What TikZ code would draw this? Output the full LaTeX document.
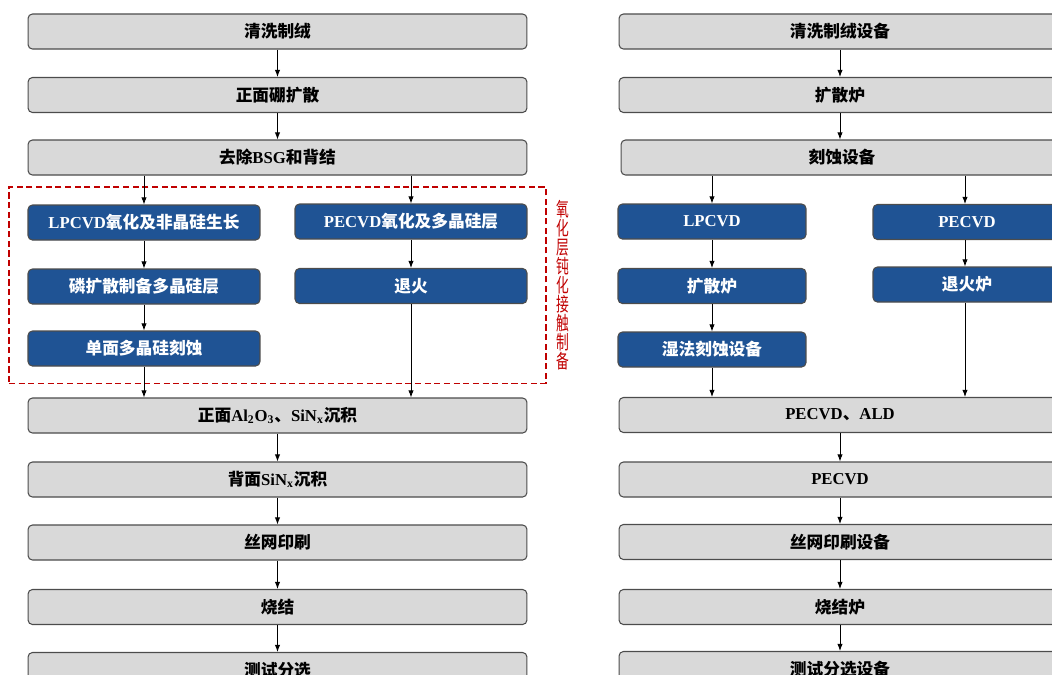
\documentclass[tikz,border=0pt]{standalone}
\usepackage{fontspec}
\setmainfont{Liberation Serif}
\newfontfamily\cjk{Noto Sans CJK SC}
\newfontfamily\cjknarrow[FakeStretch=0.66]{Noto Sans CJK SC}
\usetikzlibrary{arrows.meta,fit,positioning}
\definecolor{procgray}{HTML}{D9D9D9}
\definecolor{procblue}{HTML}{1F5394}
\definecolor{sidered}{HTML}{C00000}
\newcommand\lat[1]{{\rmfamily\bfseries #1}}

\begin{document}
\begin{tikzpicture}[x=0.02cm,y=-0.02cm,
	box/.style={draw=black!70,line width=0.6pt,rounded corners=2.5pt,minimum height=0.7cm,inner sep=0pt,
		font=\cjk\bfseries\fontsize{9.5}{11}\selectfont},
	wide/.style={box,fill=procgray,minimum width=9.98cm},
	eqwide/.style={box,fill=procgray,minimum width=8.84cm},
	bluebox/.style={box,fill=procblue,text=white,minimum width=4.64cm},
	eqblue/.style={box,fill=procblue,text=white,minimum width=3.76cm},
	arr/.style={-{Latex[length=4pt,width=3pt]},line width=0.5pt}]
				\useasboundingbox (0,0) rectangle (1052,674);
				\clip (0,0) rectangle (1052,674);

				% process
				\node[wide] (clean) at (277.5,31.5) {清洗制绒};
				\node[wide] (boron) at (277.5,95) {正面硼扩散};
				\node[wide] (bsg) at (277.5,157.5) {去除\lat{BSG}和背结};
				\node[bluebox] (lpox) at (144,222.5) {\lat{LPCVD}氧化及非晶硅生长};
				\node[bluebox] (peox) at (411,221.5) {\lat{PECVD}氧化及多晶硅层};
				\node[bluebox] (pdiff) at (144,286.5) {磷扩散制备多晶硅层};
				\node[bluebox] (anneal) at (411,286) {退火};
				\node[bluebox] (etch) at (144,348.5) {单面多晶硅刻蚀};
				\node[wide] (front) at (277.5,415.5) {正面\lat{Al\textsubscript{2}O\textsubscript{3}}、\lat{SiN\textsubscript{x}}沉积};
				\node[wide] (back) at (277.5,479.5) {背面\lat{SiN\textsubscript{x}}沉积};
				\node[wide] (print) at (277.5,542.5) {丝网印刷};
				\node[wide] (fire) at (277.5,607) {烧结};
				\node[wide] (test) at (277.5,670) {测试分选};

				\node[draw=sidered,line width=0.6pt,dash pattern=on 3.5pt off 2pt,fit=(lpox)(peox)(etch),
					inner xsep=0.37cm,inner ysep=0.33cm] (oxbox) {};
				\node[right=0.2cm of oxbox,text=sidered,align=center,inner sep=0pt,
					font=\cjknarrow\fontsize{11}{10.8}\selectfont] (oxlabel)
					{氧\\化\\层\\钝\\化\\接\\触\\制\\备};

				% equipment
				\node[eqwide] (eclean) at (840,31.5) {清洗制绒设备};
				\node[eqwide] (ediff) at (840,95) {扩散炉};
				\node[eqwide] (eetch) at (842,157.5) {刻蚀设备};
				\node[eqblue] (elp) at (712,221.5) {\lat{LPCVD}};
				\node[eqblue] (epe) at (967,222) {\lat{PECVD}};
				\node[eqblue] (efurn) at (712,286) {扩散炉};
				\node[eqblue] (eann) at (967,284.5) {退火炉};
				\node[eqblue] (ewet) at (712,349.5) {湿法刻蚀设备};
				\node[eqwide] (eald) at (840,415) {\lat{PECVD}、\lat{ALD}};
				\node[eqwide] (epecvd) at (840,479.5) {\lat{PECVD}};
				\node[eqwide] (eprint) at (840,542) {丝网印刷设备};
				\node[eqwide] (efire) at (840,607) {烧结炉};
				\node[eqwide] (etest) at (840,669) {测试分选设备};

				\draw[arr] (clean) -- (boron);
				\draw[arr] (boron) -- (bsg);
				\draw[arr] (lpox |- bsg.south) -- (lpox);
				\draw[arr] (peox |- bsg.south) -- (peox);
				\draw[arr] (lpox) -- (pdiff);
				\draw[arr] (pdiff) -- (etch);
				\draw[arr] (peox) -- (anneal);
				\draw[arr] (etch) -- (etch |- front.north);
				\draw[arr] (anneal) -- (anneal |- front.north);
				\draw[arr] (front) -- (back);
				\draw[arr] (back) -- (print);
				\draw[arr] (print) -- (fire);
				\draw[arr] (fire) -- (test);

				\draw[arr] (eclean) -- (ediff);
				\draw[arr] (ediff.south) -- (ediff.south |- eetch.north);
				\draw[arr] (elp |- eetch.south) -- (elp);
				\draw[arr] ([xshift=-0.04cm]epe |- eetch.south) -- ([xshift=-0.04cm]epe.north);
				\draw[arr] (elp) -- (efurn);
				\draw[arr] (efurn) -- (ewet);
				\draw[arr] ([xshift=-0.04cm]epe.south) -- ([xshift=-0.04cm]eann.north);
				\draw[arr] (ewet) -- (ewet |- eald.north);
				\draw[arr] ([xshift=-0.04cm]eann.south) -- ([xshift=-0.04cm]eann.south |- eald.north);
				\draw[arr] (eald) -- (epecvd);
				\draw[arr] (epecvd) -- (eprint);
				\draw[arr] (eprint) -- (efire);
				\draw[arr] (efire) -- (etest);
			\end{tikzpicture}
\end{document}
